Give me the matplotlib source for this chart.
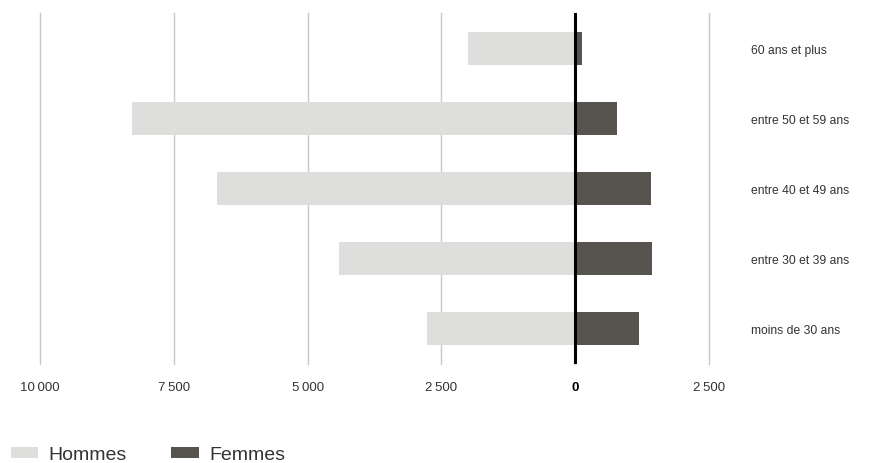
import matplotlib.pyplot as plt
import numpy as np
from matplotlib.ticker import FuncFormatter

plt.rcParams['font.family'] = ['Liberation Sans', 'DejaVu Sans']

# data, bottom to top
categories = ['moins de 30 ans', 'entre 30 et 39 ans', 'entre 40 et 49 ans',
              'entre 50 et 59 ans', '60 ans et plus']
hommes = [2770, 4410, 6690, 8280, 2000]
femmes = [1195, 1435, 1420, 785, 130]
ticks = [-10000, -7500, -5000, -2500, 0, 2500]

c_hommes = '#dededc'
c_femmes = '#57534e'


def fmt(v, pos):
    s = '{:,.0f}'.format(abs(v)).replace(',', '\u2009')
    return s


fig = plt.figure(figsize=(8.75, 4.64), dpi=100)
ax = fig.add_axes([40 / 875, 99 / 464, 669 / 875, 351 / 464])

y = np.arange(len(categories))
ax.barh(y, [-h for h in hommes], height=0.47, color=c_hommes, label='Hommes', zorder=2)
ax.barh(y, femmes, height=0.47, color=c_femmes, label='Femmes', zorder=2)
ax.axvline(0, color='black', lw=2.2, zorder=3)

ax.set_xlim(-10000, 2500)
ax.set_ylim(-0.5, len(categories) - 0.5)
ax.set_xticks(ticks)
ax.xaxis.set_major_formatter(FuncFormatter(fmt))
ax.grid(axis='x', color='#c8c8c8', lw=1, zorder=0)
for gl in ax.get_xgridlines():
    gl.set_clip_on(False)
ax.tick_params(axis='x', length=0, pad=12, labelsize=9.5, labelcolor='#333333')
for lbl in ax.get_xticklabels():
    if lbl.get_text() == '0':
        lbl.set_fontweight('bold')
        lbl.set_color('black')

ax.yaxis.tick_right()
ax.set_yticks(y)
ax.set_yticklabels(categories)
ax.tick_params(axis='y', length=0, pad=30, labelsize=8.7, labelcolor='#333333')

for s in ax.spines.values():
    s.set_visible(False)

fig.legend(loc='center left', bbox_to_anchor=(-0.008, 8 / 464), ncol=2, frameon=False,
           fontsize=14, handlelength=1.4, handleheight=0.5, handletextpad=0.55,
           columnspacing=2.3, labelcolor='#333333')

fig.savefig('out.png', dpi=100)
